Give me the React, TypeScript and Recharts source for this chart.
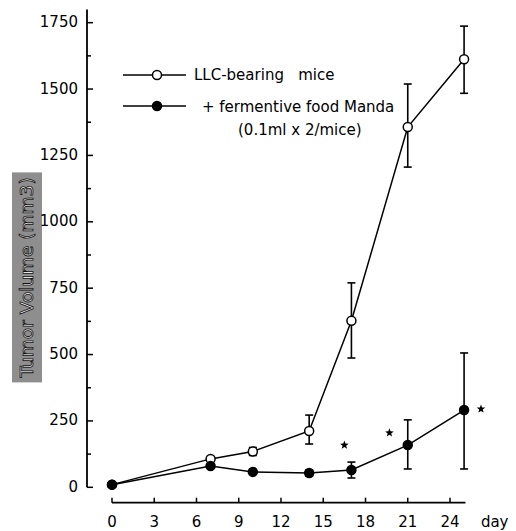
import { ComposedChart, Line, XAxis, YAxis, ErrorBar, Legend, ReferenceLine, ReferenceDot } from 'recharts';

// days after tumour inoculation
const days = [0, 7, 10, 14, 17, 21, 25];

// tumour volume (mm3), open circles
const llcMice = [10, 107, 135, 212, 627, 1357, 1612];
const llcErr = [[0, 0], [0, 0], [15, 15], [49, 60], [140, 143], [151, 162], [128, 125]];

// tumour volume (mm3), filled circles
const mandaMice = [10, 80, 58, 54, 65, 159, 291];
const mandaErr = [[0, 0], [0, 0], [0, 0], [12, 12], [30, 30], [90, 95], [222, 215]];

const seriesNames = ['LLC-bearing   mice', '+ fermentive food Manda'];
const dotFills = ['#fff', '#000'];
const legendNote = '(0.1ml x 2/mice)';

const xTicks = [0, 3, 6, 9, 12, 15, 18, 21, 24];
const yTicks = [0, 125, 250, 375, 500, 625, 750, 875, 1000, 1125, 1250, 1375, 1500, 1625, 1750];

// significance marks (*)
const stars = [
  { day: 16.5, value: 159 },
  { day: 19.7, value: 205 },
  { day: 26.2, value: 295 },
];

const xMin = -1.775;
const xMax = 25.2;
const yMin = -58;
const yMax = 1800;
const xLineEnd = 25.1;

const data = days.map((d, i) => ({
  day: d,
  llc: llcMice[i],
  llcErr: llcErr[i],
  manda: mandaMice[i],
  mandaErr: mandaErr[i],
}));

const font = '"DejaVu Sans", sans-serif';

const YTick = ({ x, y, payload }) => {
  const major = payload.value % 250 === 0;
  return (
    <g>
      <line x1={x} x2={x + (major ? 6 : 4)} y1={y} y2={y} stroke="#000" strokeWidth={1.5} />
      {major && (
        <text x={x - 9} y={y} dy="0.3em" textAnchor="end" fontSize={15} fontFamily={font} fill="#000">
          {payload.value}
        </text>
      )}
    </g>
  );
};

const XTick = ({ x, y, payload }) => (
  <g>
    <line x1={x} x2={x} y1={y} y2={y - 5} stroke="#000" strokeWidth={1.5} />
    <text x={x} y={y + 24} textAnchor="middle" fontSize={15} fontFamily={font} fill="#000">
      {payload.value}
    </text>
  </g>
);

const DayLabel = ({ viewBox }) => (
  <text x={viewBox.x + viewBox.width + 14} y={viewBox.y + 24} fontSize={15} fontFamily={font} fill="#000">
    day
  </text>
);

const VolumeLabel = ({ viewBox }) => {
  const cx = viewBox.x + 27;
  const cy = viewBox.y + 268;
  return (
    <g>
      <rect x={cx - 15} y={cy - 105} width={30} height={210} fill="#8e8e8e" />
      <text
        x={cx}
        y={cy}
        dy="0.35em"
        transform={`rotate(-90 ${cx} ${cy})`}
        textAnchor="middle"
        fontSize={18.5}
        fontFamily={font}
        fill="#e6e6e6"
        stroke="#111"
        strokeWidth={0.8}
      >
        Tumor Volume (mm3)
      </text>
    </g>
  );
};

const StarShape = ({ cx, cy }) => {
  const pts = [];
  for (let k = 0; k < 10; k++) {
    const r = k % 2 === 0 ? 4.5 : 1.9;
    const a = -Math.PI / 2 + (k * Math.PI) / 5;
    pts.push(`${cx + r * Math.cos(a)},${cy + r * Math.sin(a)}`);
  }
  return <polygon points={pts.join(' ')} fill="#000" />;
};

const rowY = [15, 46];
const textX = [84, 92];
const textY = [20, 52];

const LegendBox = ({ payload }) => (
  <svg width={290} height={84} style={{ display: 'block' }}>
    {(payload || []).map((entry) => {
      const i = seriesNames.indexOf(entry.value);
      if (i < 0) return null;
      return (
        <g key={entry.value}>
          <line x1={13} x2={76} y1={rowY[i]} y2={rowY[i]} stroke="#000" strokeWidth={1.5} />
          <circle cx={47} cy={rowY[i]} r={4.5} fill={dotFills[i]} stroke="#000" strokeWidth={1.5} />
          <text x={textX[i]} y={textY[i]} fontSize={15} fontFamily={font} fill="#000" style={{ whiteSpace: 'pre' }}>
            {entry.value}
          </text>
        </g>
      );
    })}
    <text x={128} y={75} fontSize={15} fontFamily={font} fill="#000">
      {legendNote}
    </text>
  </svg>
);

export default function App() {
  return (
    <div style={{ position: 'absolute', left: 0, top: 0, background: '#fff' }}>
      <ComposedChart width={516} height={531} data={data} margin={{ top: 9.4, right: 49.1, bottom: 0.3, left: 0 }}>
        <XAxis
          type="number"
          dataKey="day"
          domain={[xMin, xMax]}
          ticks={xTicks}
          axisLine={false}
          tickLine={false}
          tickSize={0}
          tickMargin={0}
          height={28}
          tick={XTick}
          label={{ content: DayLabel }}
        />
        <YAxis
          type="number"
          domain={[yMin, yMax]}
          ticks={yTicks}
          axisLine={false}
          tickLine={false}
          tickSize={0}
          tickMargin={0}
          width={87}
          tick={YTick}
          label={{ content: VolumeLabel }}
        />
        <ReferenceLine segment={[{ x: xMin, y: 0 }, { x: xMin, y: yMax }]} stroke="#000" strokeWidth={1.8} ifOverflow="visible" />
        <ReferenceLine segment={[{ x: 0, y: yMin }, { x: xLineEnd, y: yMin }]} stroke="#000" strokeWidth={1.8} ifOverflow="visible" />
        <Legend
          layout="vertical"
          align="center"
          verticalAlign="middle"
          wrapperStyle={{ left: 110, top: 60, width: 290 }}
          content={LegendBox}
        />
        <Line
          type="linear"
          dataKey="llc"
          name={seriesNames[0]}
          stroke="#000"
          strokeWidth={1.5}
          dot={{ r: 4.5, fill: dotFills[0], stroke: '#000', strokeWidth: 1.5 }}
          isAnimationActive={false}
        >
          <ErrorBar dataKey="llcErr" direction="y" width={4} stroke="#000" strokeWidth={1.6} />
        </Line>
        <Line
          type="linear"
          dataKey="manda"
          name={seriesNames[1]}
          stroke="#000"
          strokeWidth={1.5}
          dot={{ r: 4.5, fill: dotFills[1], stroke: '#000', strokeWidth: 1.5 }}
          isAnimationActive={false}
        >
          <ErrorBar dataKey="mandaErr" direction="y" width={4} stroke="#000" strokeWidth={1.6} />
        </Line>
        {stars.map((s) => (
          <ReferenceDot key={s.day} x={s.day} y={s.value} r={4} ifOverflow="visible" shape={StarShape} />
        ))}
      </ComposedChart>
    </div>
  );
}
